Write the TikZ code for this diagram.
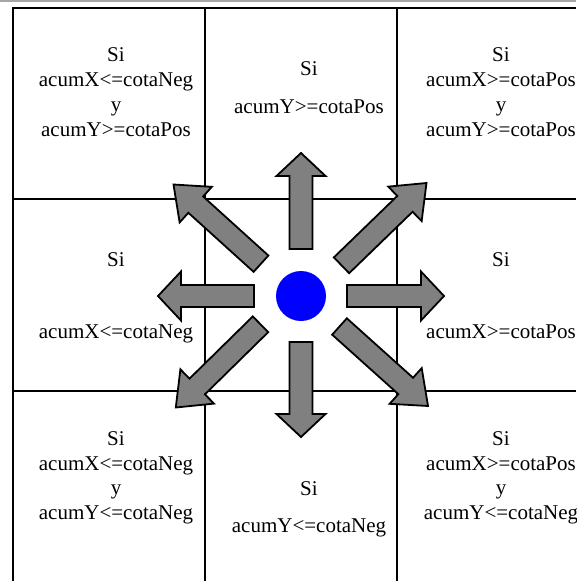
\documentclass[tikz,border=0pt]{standalone}
\usepackage{fontspec}
\setmainfont{Liberation Serif}
\usetikzlibrary{calc}
\definecolor{arrowgray}{RGB}{128,128,128}
\tikzset{
  gridline/.style={line width=1.8pt, draw=black},
  topline/.style={line width=1.2pt, draw=black!35},
  fatarrowstyle/.style={draw=black, fill=arrowgray, line width=1.8pt, line join=miter},
  lbl/.style={anchor=base, inner sep=0pt, font=\fontsize{21}{25}\selectfont},
  dotstyle/.style={circle, fill=blue, minimum size=50pt, inner sep=0pt},
}
\newcommand\drawfatarrow[5]{%
  \coordinate (fa-b) at ($(#2)!#5!(#1)$);
  \draw[fatarrowstyle] ($(#1)!#3!90:(#2)$) -- ($(fa-b)!#3!90:(#2)$) -- ($(fa-b)!#4!90:(#2)$)
    -- (#2) -- ($(fa-b)!#4!-90:(#2)$) -- ($(fa-b)!#3!-90:(#2)$) -- ($(#1)!#3!-90:(#2)$) -- cycle;
}
\begin{document}
\begin{tikzpicture}[x=1pt,y=-1pt]
\useasboundingbox (0,0) rectangle (576,581);
% grid
\draw[topline] (0,1) -- (576,1);
\draw[gridline] (13,581) -- (13,8) -- (576,8);
\draw[gridline] (13,199) -- (576,199);
\draw[gridline] (13,391) -- (576,391);
\draw[gridline] (205,8) -- (205,581);
\draw[gridline] (397,8) -- (397,581);
% texts
\node[lbl] (tl1) at (116,61.7) {Si};
\node[lbl] (tl2) at (116,86.5) {acumX<=cotaNeg};
\node[lbl] (tl3) at (116,111.2) {y};
\node[lbl] (tl4) at (116,136) {acumY>=cotaPos};
\node[lbl] (tm1) at (309,75.5) {Si};
\node[lbl] (tm2) at (309,113.3) {acumY>=cotaPos};
\node[lbl] (tr1) at (501,61.7) {Si};
\node[lbl] (tr2) at (501,86.5) {acumX>=cotaPos};
\node[lbl] (tr3) at (501,111.2) {y};
\node[lbl] (tr4) at (501,136) {acumY>=cotaPos};
\node[lbl] (ml1) at (116,266.5) {Si};
\node[lbl] (ml2) at (116,338.5) {acumX<=cotaNeg};
\node[lbl] (mr1) at (501,266.5) {Si};
\node[lbl] (mr2) at (501,338.5) {acumX>=cotaPos};
\node[lbl] (bl1) at (116,445) {Si};
\node[lbl] (bl2) at (116,470) {acumX<=cotaNeg};
\node[lbl] (bl3) at (116,494.6) {y};
\node[lbl] (bl4) at (116,519.3) {acumY<=cotaNeg};
\node[lbl] (bm1) at (309,495.5) {Si};
\node[lbl] (bm2) at (309,532.5) {acumY<=cotaNeg};
\node[lbl] (br1) at (501,445) {Si};
\node[lbl] (br2) at (501,470) {acumX>=cotaPos};
\node[lbl] (br3) at (501,494.6) {y};
\node[lbl] (br4) at (501,519.3) {acumY<=cotaNeg};
% centre
\coordinate (c) at (301,296);
\node[dotstyle] (dot) at (c) {};
% arrow end points
\coordinate (us) at (301,249);   \coordinate (ut) at (301,153);
\coordinate (ds) at (301,342);   \coordinate (dt) at (301,437);
\coordinate (ls) at (254,296);   \coordinate (lt) at (158,296);
\coordinate (rs) at (347,296);   \coordinate (rt) at (444,296);
\coordinate (uls) at (261,263.7); \coordinate (ult) at (173.5,184.5);
\coordinate (urs) at (341.5,265.3); \coordinate (urt) at (426.5,183);
\coordinate (lls) at (260.5,324.3); \coordinate (llt) at (175.8,407.5);
\coordinate (lrs) at (339.5,326.5); \coordinate (lrt) at (428,406);
% arrows
\drawfatarrow{us}{ut}{11.5pt}{24.5pt}{23pt}
\drawfatarrow{ds}{dt}{11.5pt}{24.5pt}{23pt}
\drawfatarrow{ls}{lt}{11pt}{24.5pt}{23pt}
\drawfatarrow{rs}{rt}{11pt}{24.5pt}{23pt}
\drawfatarrow{uls}{ult}{11pt}{24pt}{30pt}
\drawfatarrow{urs}{urt}{11pt}{24pt}{30pt}
\drawfatarrow{lls}{llt}{11pt}{24pt}{30pt}
\drawfatarrow{lrs}{lrt}{11pt}{24pt}{30pt}
\end{tikzpicture}
\end{document}
